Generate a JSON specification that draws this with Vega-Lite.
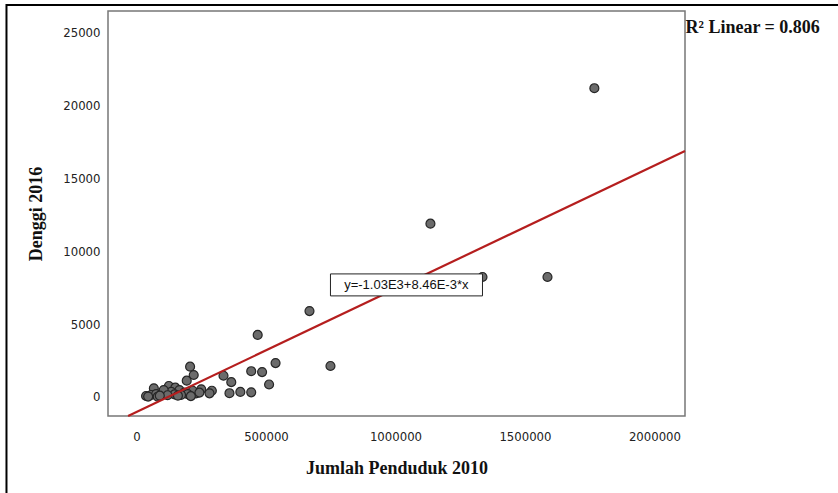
{
  "$schema": "https://vega.github.io/schema/vega-lite/v6.json",
  "autosize": {"type": "none"},
  "width": 577,
  "height": 405,
  "padding": {"left": 108, "top": 11, "right": 153, "bottom": 77},
  "background": "white",
  "config": {
    "view": {"stroke": "#777777", "strokeWidth": 1.5},
    "axis": {"grid": false, "domain": false, "ticks": false, "labelFont": "Liberation Sans Narrow, DejaVu Sans Condensed, sans-serif", "labelFontSize": 13, "labelColor": "#222", "titleFont": "Liberation Serif, serif", "titleFontSize": 18, "titleFontWeight": "bold", "titleColor": "#111"}
  },
  "layer": [
    {
      "data": {"values": [{"fx1": -502000, "fx2": 2800000, "fy1": 26920, "fy2": -8000}]},
      "mark": {"type": "rect", "fill": null, "stroke": "black", "strokeWidth": 2, "clip": false},
      "encoding": {
        "x": {"field": "fx1", "type": "quantitative"},
        "x2": {"field": "fx2"},
        "y": {"field": "fy1", "type": "quantitative"},
        "y2": {"field": "fy2"}
      }
    },
    {
      "data": {"values": [
        {"pop": 1768000, "dengue": 21200},
        {"pop": 1135000, "dengue": 11900},
        {"pop": 1336000, "dengue": 8240},
        {"pop": 1587000, "dengue": 8240},
        {"pop": 668000, "dengue": 5900},
        {"pop": 468000, "dengue": 4260},
        {"pop": 749000, "dengue": 2130},
        {"pop": 537000, "dengue": 2330},
        {"pop": 443000, "dengue": 1770},
        {"pop": 485000, "dengue": 1710},
        {"pop": 512000, "dengue": 860},
        {"pop": 366000, "dengue": 1020},
        {"pop": 336000, "dengue": 1460},
        {"pop": 401000, "dengue": 350},
        {"pop": 443000, "dengue": 320},
        {"pop": 359000, "dengue": 260},
        {"pop": 207000, "dengue": 2080},
        {"pop": 221000, "dengue": 1510},
        {"pop": 194000, "dengue": 1120},
        {"pop": 67000, "dengue": 600},
        {"pop": 125000, "dengue": 755},
        {"pop": 150000, "dengue": 640},
        {"pop": 291000, "dengue": 430},
        {"pop": 282000, "dengue": 250},
        {"pop": 250000, "dengue": 530},
        {"pop": 230000, "dengue": 250},
        {"pop": 217000, "dengue": 430},
        {"pop": 37000, "dengue": 70},
        {"pop": 57000, "dengue": 140},
        {"pop": 76000, "dengue": 200},
        {"pop": 95000, "dengue": 180},
        {"pop": 115000, "dengue": 250},
        {"pop": 134000, "dengue": 360},
        {"pop": 166000, "dengue": 480},
        {"pop": 185000, "dengue": 300},
        {"pop": 198000, "dengue": 200},
        {"pop": 172000, "dengue": 140},
        {"pop": 82000, "dengue": 20},
        {"pop": 147000, "dengue": 180},
        {"pop": 105000, "dengue": 480},
        {"pop": 243000, "dengue": 300},
        {"pop": 45000, "dengue": 30},
        {"pop": 160000, "dengue": 90},
        {"pop": 210000, "dengue": 60},
        {"pop": 120000, "dengue": 120},
        {"pop": 90000, "dengue": 90}
      ]},
      "mark": {"type": "point", "filled": true, "fill": "#6b6b6b", "stroke": "#262626", "strokeWidth": 1.2, "opacity": 1, "size": 80, "shape": "circle"},
      "encoding": {
        "x": {"field": "pop", "type": "quantitative", "scale": {"domain": [-110000, 2118000], "nice": false, "zero": false},
          "axis": {"title": "Jumlah Penduduk 2010", "values": [0, 500000, 1000000, 1500000, 2000000], "format": "d", "labelPadding": 14, "titlePadding": 16}},
        "y": {"field": "dengue", "type": "quantitative", "scale": {"domain": [-1305, 26500], "nice": false, "zero": false},
          "axis": {"title": "Denggi 2016", "values": [0, 5000, 10000, 15000, 20000, 25000], "format": "d", "labelPadding": 8, "titlePadding": 17}}
      }
    },
    {
      "data": {"values": [{"pop": -32500, "fit": -1305}, {"pop": 2118000, "fit": 16888}]},
      "mark": {"type": "line", "color": "#b51e1e", "strokeWidth": 2.2},
      "encoding": {
        "x": {"field": "pop", "type": "quantitative"},
        "y": {"field": "fit", "type": "quantitative"}
      }
    },
    {
      "data": {"values": [{"bx1": 749000, "bx2": 1336000, "by1": 8450, "by2": 6940}]},
      "mark": {"type": "rect", "fill": "white", "stroke": "#222", "strokeWidth": 1},
      "encoding": {
        "x": {"field": "bx1", "type": "quantitative"},
        "x2": {"field": "bx2"},
        "y": {"field": "by1", "type": "quantitative"},
        "y2": {"field": "by2"}
      }
    },
    {
      "data": {"values": [{"tx": 1042000, "ty": 7690, "label": "y=-1.03E3+8.46E-3*x"}]},
      "mark": {"type": "text", "font": "Liberation Sans, Arial, sans-serif", "fontSize": 13, "color": "#111", "align": "center", "baseline": "middle"},
      "encoding": {
        "x": {"field": "tx", "type": "quantitative"},
        "y": {"field": "ty", "type": "quantitative"},
        "text": {"field": "label"}
      }
    },
    {
      "data": {"values": [{"tx": 2120000, "ty": 25350, "label": "R² Linear = 0.806"}]},
      "mark": {"type": "text", "font": "Liberation Serif, serif", "fontSize": 18, "fontWeight": "bold", "color": "#111", "align": "left", "baseline": "middle", "clip": false},
      "encoding": {
        "x": {"field": "tx", "type": "quantitative"},
        "y": {"field": "ty", "type": "quantitative"},
        "text": {"field": "label"}
      }
    }
  ]
}
